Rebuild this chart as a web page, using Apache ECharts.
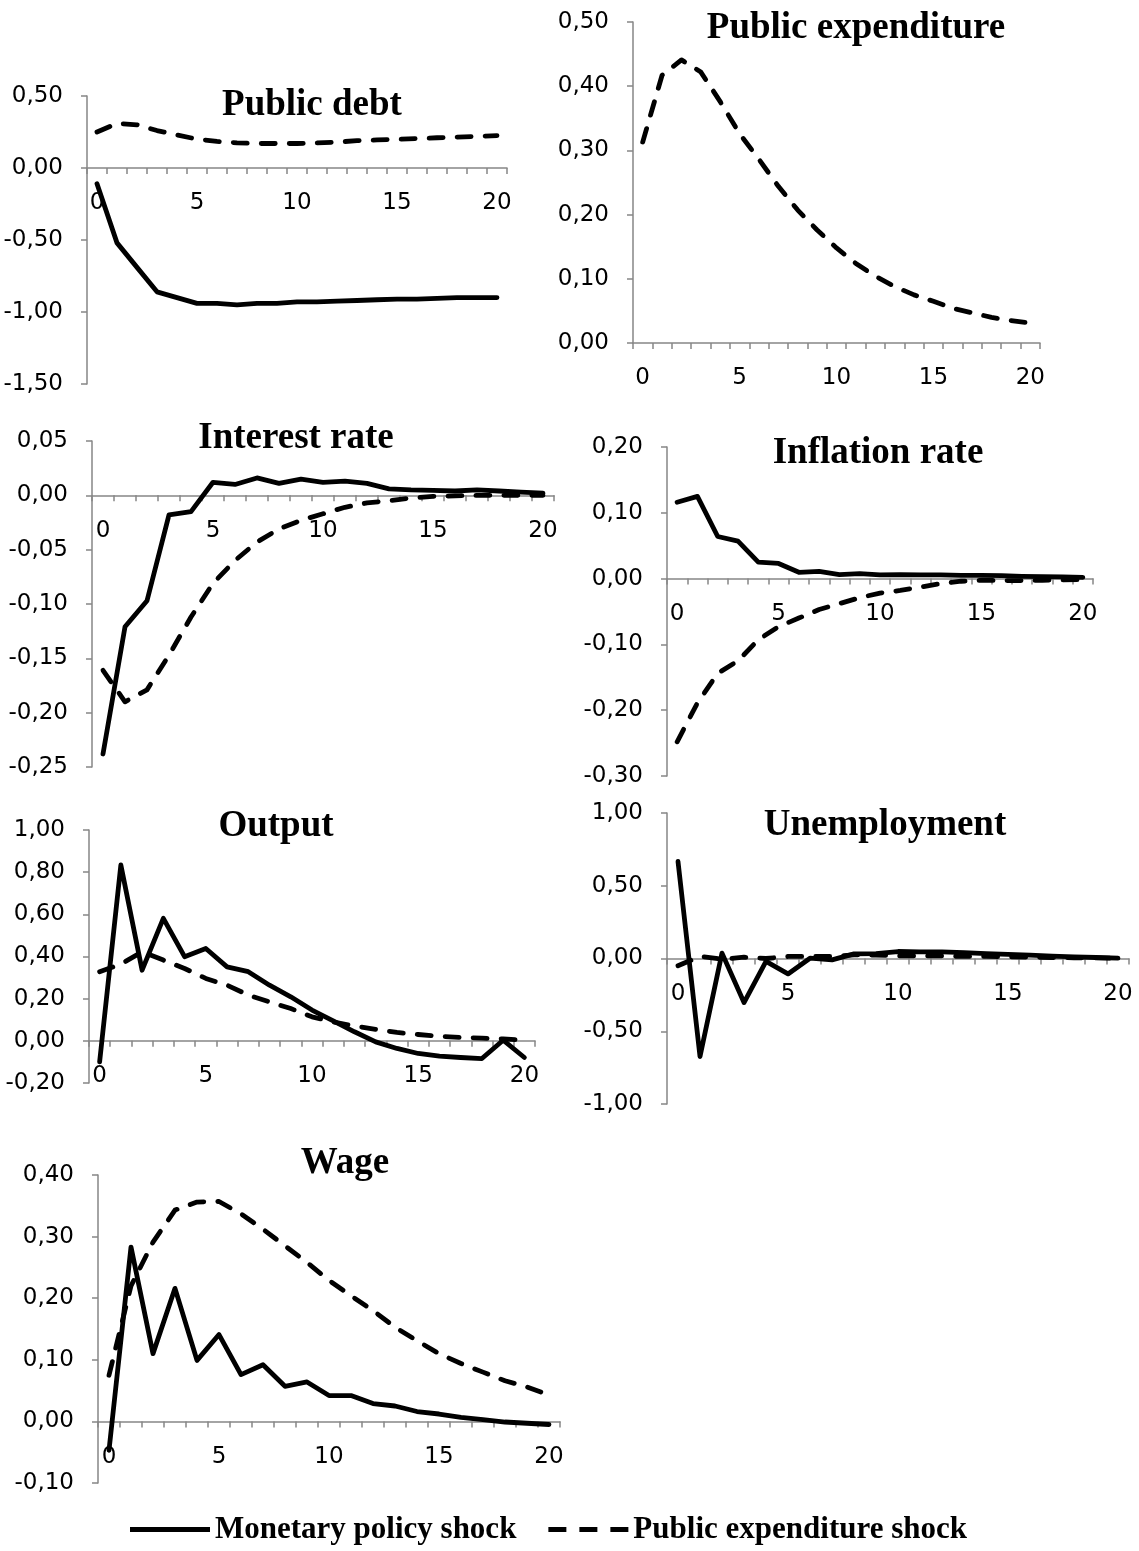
<!DOCTYPE html>
<html>
<head>
<meta charset="utf-8">
<script src="https://cdn.jsdelivr.net/npm/echarts@6/dist/echarts.min.js"></script>
<style>
html,body{margin:0;padding:0;background:#fff;}
#chart{width:1139px;height:1551px;}
</style>
</head>
<body>
<div id="chart"></div>
<script>
const periods = ['0','1','2','3','4','5','6','7','8','9','10','11','12','13','14','15','16','17','18','19','20'];

const seriesNames = ['Monetary policy shock', 'Public expenditure shock'];
const panelTitles = ['Public debt', 'Public expenditure', 'Interest rate', 'Inflation rate', 'Output', 'Unemployment', 'Wage'];

// Public debt
const debtMonetary = [-0.11,-0.52,-0.69,-0.86,-0.90,-0.94,-0.94,-0.95,-0.94,-0.94,-0.93,-0.93,-0.925,-0.92,-0.915,-0.91,-0.91,-0.905,-0.90,-0.90,-0.90];
const debtPublic = [0.25,0.31,0.30,0.26,0.23,0.20,0.185,0.175,0.17,0.17,0.17,0.175,0.18,0.19,0.195,0.20,0.205,0.21,0.215,0.22,0.225];
// Public expenditure
const expPublic = [0.313,0.417,0.441,0.422,0.376,0.326,0.286,0.244,0.207,0.176,0.148,0.124,0.104,0.088,0.075,0.065,0.054,0.047,0.040,0.035,0.031];
// Interest rate
const rateMonetary = [-0.238,-0.121,-0.097,-0.018,-0.015,0.012,0.010,0.016,0.011,0.015,0.012,0.013,0.011,0.006,0.005,0.0045,0.004,0.005,0.004,0.003,0.002];
const ratePublic = [-0.161,-0.190,-0.179,-0.147,-0.112,-0.081,-0.060,-0.043,-0.031,-0.023,-0.017,-0.011,-0.007,-0.005,-0.0025,-0.001,-0.0005,0,0,0,0];
// Inflation rate
const inflMonetary = [0.116,0.125,0.064,0.057,0.025,0.023,0.0096,0.011,0.006,0.0076,0.0056,0.006,0.0056,0.0056,0.005,0.005,0.0045,0.0035,0.003,0.0025,0.002];
const inflPublic = [-0.248,-0.189,-0.144,-0.125,-0.093,-0.073,-0.060,-0.047,-0.038,-0.029,-0.022,-0.018,-0.013,-0.0076,-0.004,-0.0025,-0.003,-0.003,-0.0025,-0.002,-0.0015];
// Output
const outMonetary = [-0.10,0.834,0.335,0.581,0.399,0.438,0.351,0.328,0.264,0.209,0.146,0.095,0.043,-0.005,-0.036,-0.060,-0.073,-0.079,-0.084,0.003,-0.079];
const outPublic = [0.328,0.364,0.422,0.383,0.343,0.296,0.264,0.217,0.185,0.153,0.114,0.090,0.070,0.054,0.040,0.030,0.022,0.016,0.013,0.009,0.003];
// Unemployment
const unMonetary = [0.667,-0.674,0.037,-0.303,-0.02,-0.106,0.002,-0.009,0.032,0.034,0.048,0.046,0.046,0.041,0.034,0.028,0.023,0.016,0.011,0.007,0.002];
const unPublic = [-0.05,0.014,-0.005,0.009,0.0,0.014,0.014,0.014,0.025,0.023,0.018,0.018,0.018,0.014,0.014,0.011,0.009,0.007,0.005,0.004,0.002];
// Wage
const wageMonetary = [-0.047,0.283,0.110,0.216,0.099,0.141,0.076,0.092,0.057,0.064,0.042,0.042,0.029,0.025,0.016,0.012,0.0065,0.003,-0.001,-0.003,-0.005];
const wagePublic = [0.075,0.22,0.291,0.343,0.356,0.357,0.337,0.312,0.285,0.258,0.229,0.204,0.18,0.153,0.131,0.110,0.094,0.08,0.066,0.056,0.043];

// y-axis scales per panel: [min, max, interval]
const yScales = [[-1.5,0.5,0.5],[0,0.5,0.1],[-0.25,0.05,0.05],[-0.3,0.2,0.1],[-0.2,1.0,0.2],[-1,1,0.5],[-0.1,0.4,0.1]];

// layout (pixels)
const grids = [
  {left:87, top:96, width:420, height:288},
  {left:633, top:22, width:407, height:321},
  {left:92, top:441, width:462, height:326},
  {left:667, top:447, width:426, height:329},
  {left:89, top:830, width:446, height:253},
  {left:667, top:813, width:462, height:291},
  {left:98, top:1175, width:462, height:308}
];
const titlePos = [[312,105],[856,28],[296,438],[878,453],[276,826],[885,825],[345,1163]];

const panelSeries = [
  [debtMonetary, debtPublic],
  [null, expPublic],
  [rateMonetary, ratePublic],
  [inflMonetary, inflPublic],
  [outMonetary, outPublic],
  [unMonetary, unPublic],
  [wageMonetary, wagePublic]
];

const axisColor = '#868686';
const labelFont = {fontFamily:'DejaVu Sans', fontSize:23, color:'#000'};
const fmt = v => v.toFixed(2).replace('.', ',');

const xAxes = [], yAxes = [], series = [], titles = [];
grids.forEach((g, i) => {
  const s = yScales[i];
  // place the category axis on the zero line of the value axis
  const zeroOffset = -g.height * (0 - s[0]) / (s[1] - s[0]);
  xAxes.push({
    type:'category', gridIndex:i, data:periods, boundaryGap:true,
    position:'bottom', offset: zeroOffset,
    axisLine:{show:true, onZero:false, lineStyle:{color:axisColor, width:1.5}},
    axisTick:{show:true, interval:0, length:6, lineStyle:{color:axisColor, width:1.5}},
    axisLabel:Object.assign({interval:4, margin:24}, labelFont),
    splitLine:{show:false}
  });
  yAxes.push({
    type:'value', gridIndex:i, min:s[0], max:s[1], interval:s[2],
    axisLine:{show:true, lineStyle:{color:axisColor, width:1.5}},
    axisTick:{show:true, length:6, lineStyle:{color:axisColor, width:1.5}},
    axisLabel:Object.assign({margin:24, formatter:fmt}, labelFont),
    splitLine:{show:false}
  });
  titles.push({
    text: panelTitles[i], left: titlePos[i][0], top: titlePos[i][1],
    textAlign:'center', textVerticalAlign:'middle', padding:0,
    textStyle:{fontFamily:'Liberation Serif', fontWeight:'bold', fontSize:37, color:'#000'}
  });
  const [mon, pub] = panelSeries[i];
  if (mon) series.push({
    name: seriesNames[0], type:'line', xAxisIndex:i, yAxisIndex:i, data:mon,
    symbol:'none', silent:true, z:3,
    lineStyle:{color:'#000', width:4.8, type:'solid', join:'round', cap:'round'},
    itemStyle:{color:'#000'}
  });
  series.push({
    name: seriesNames[1], type:'line', xAxisIndex:i, yAxisIndex:i, data:pub,
    symbol:'none', silent:true, z:2,
    lineStyle:{color:'#000', width:4.8, type:[14,14], cap:'round', join:'round'},
    itemStyle:{color:'#000'}
  });
});

const chart = echarts.init(document.getElementById('chart'), null, {renderer:'canvas'});
chart.setOption({
  animation:false,
  backgroundColor:'#fff',
  title: titles,
  grid: grids,
  xAxis: xAxes,
  yAxis: yAxes,
  legend: {
    left:130, top:1514, itemWidth:80, itemHeight:5, itemGap:32, padding:0,
    selectedMode:false,
    itemStyle:{color:'#000', borderWidth:0},
    textStyle:{fontFamily:'Liberation Serif', fontWeight:'bold', fontSize:31, color:'#000'},
    data:[
      {name:seriesNames[0], icon:'path://M0,0h80v5h-80z'},
      {name:seriesNames[1], icon:'path://M0,0h18v5h-18z M31,0h18v5h-18z M62,0h18v5h-18z'}
    ]
  },
  series: series
});
</script>
</body>
</html>
